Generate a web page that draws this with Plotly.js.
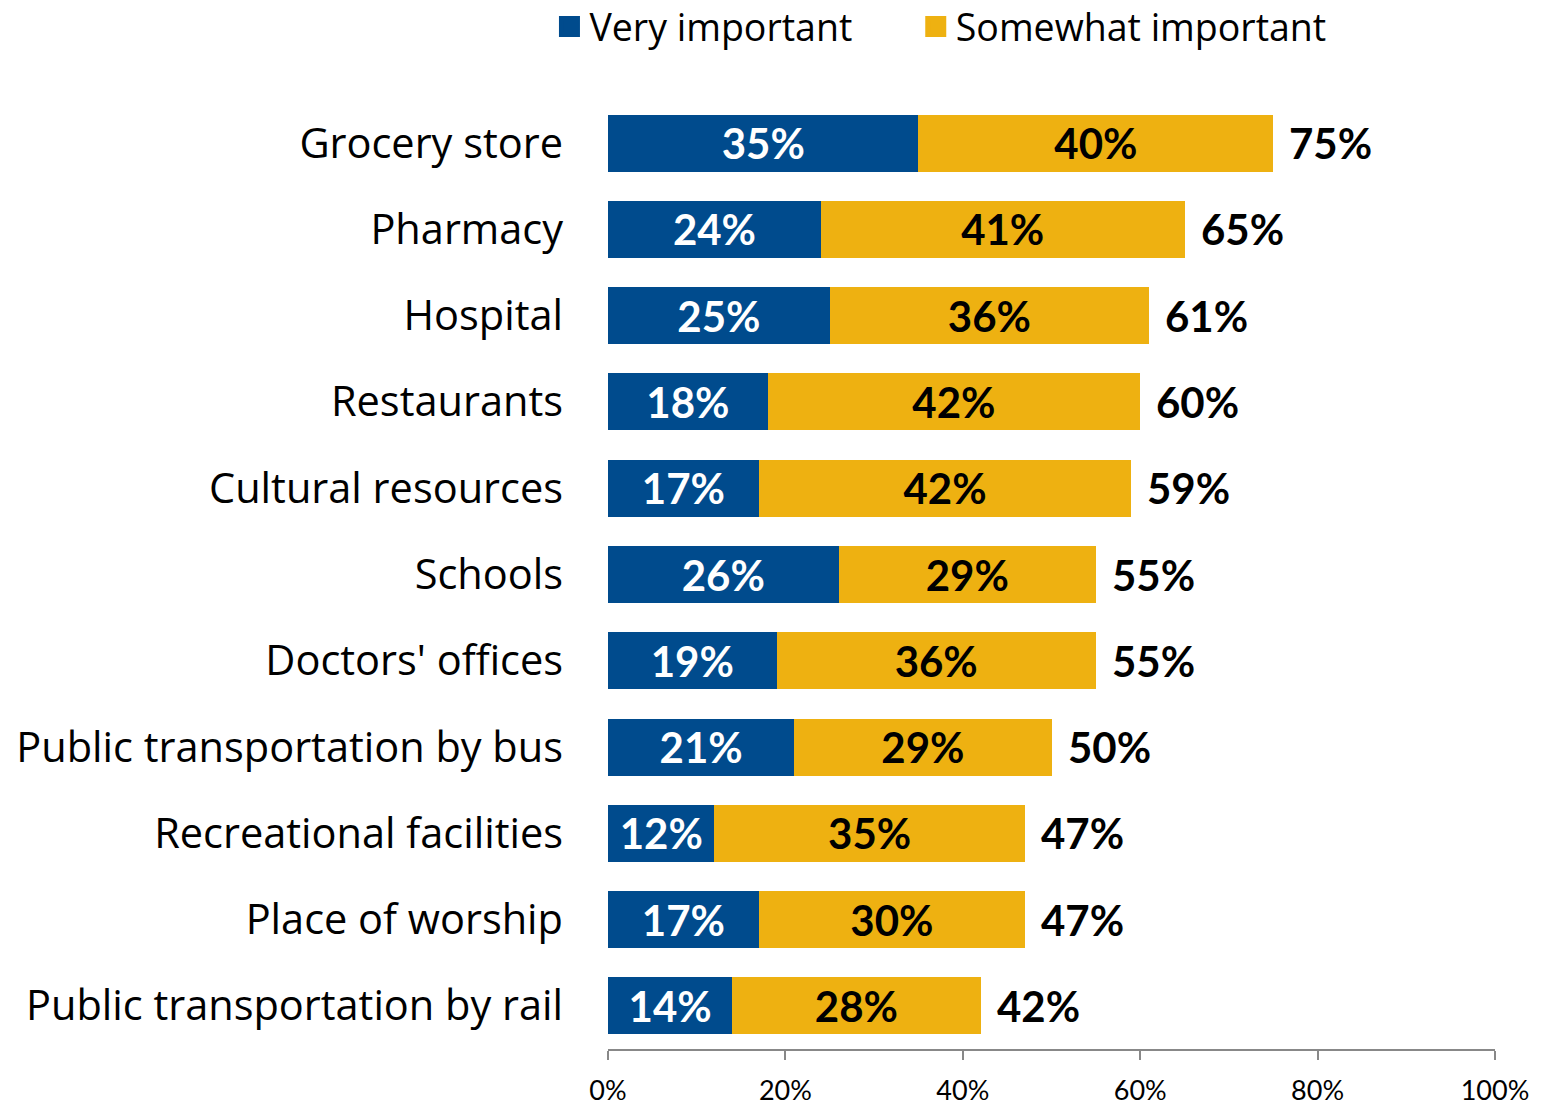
<!DOCTYPE html>
<html><head><meta charset="utf-8">
<script src="https://cdn.plot.ly/plotly-3.0.1.min.js"></script>
<style>body{margin:0;background:#fff}#chart{width:1545px;height:1106px}</style>
</head><body><div id="chart"></div>
<script>
const categories = ["Grocery store","Pharmacy","Hospital","Restaurants","Cultural resources","Schools","Doctors' offices","Public transportation by bus","Recreational facilities","Place of worship","Public transportation by rail"];
const veryImportant = [35,24,25,18,17,26,19,21,12,17,14];
const somewhatImportant = [40,41,36,42,42,29,36,29,35,30,28];
const totals = [75,65,61,60,59,55,55,50,47,47,42];
const xTickVals = [0,20,40,60,80,100];
const xTickText = ["0%","20%","40%","60%","80%","100%"];
const seriesNames = ["Very important","Somewhat important"];
const seriesColors = ["#004B8D","#EEB111"];

const FONT = "Lato, 'Open Sans', sans-serif";
const CATFONT = "'Open Sans', Lato, sans-serif";
const pct = a => a.map(v => v + "%");
const PAD = "\u00a0\u00a0\u00a0\u00a0\u00a0\u00a0";

const traces = [
  {type:'bar', orientation:'h', name:seriesNames[0], y:categories, x:veryImportant, showlegend:false,
   marker:{color:seriesColors[0]}, text:pct(veryImportant), textposition:'inside', insidetextanchor:'middle',
   constraintext:'none', textfont:{family:FONT, size:42, color:'#ffffff', weight:700}, hoverinfo:'none'},
  {type:'bar', orientation:'h', name:seriesNames[1], y:categories, x:somewhatImportant, showlegend:false,
   marker:{color:seriesColors[1]}, text:pct(somewhatImportant), textposition:'inside', insidetextanchor:'middle',
   constraintext:'none', textfont:{family:FONT, size:42, color:'#000000', weight:700}, hoverinfo:'none'},
  // legend entries
  {type:'scatter', mode:'markers', name:seriesNames[0] + PAD, x:[null], y:[null],
   marker:{symbol:'square', size:16, color:seriesColors[0], line:{width:5, color:seriesColors[0]}}},
  {type:'scatter', mode:'markers', name:seriesNames[1], x:[null], y:[null],
   marker:{symbol:'square', size:16, color:seriesColors[1], line:{width:5, color:seriesColors[1]}}}
];

const annotations = categories.map((c,i) => ({
  x: totals[i], y: c, xref:'x', yref:'y', text: totals[i] + "%", showarrow:false,
  xanchor:'left', xshift:14, font:{family:FONT, size:42, color:'#000', weight:700}
}));

const layout = {
  width:1545, height:1106, barmode:'stack', bargap:0.34,
  paper_bgcolor:'#fff', plot_bgcolor:'#fff',
  margin:{l:608, r:50, t:100, b:57, autoexpand:false},
  showlegend:true,
  legend:{orientation:'h', x:-0.066, xanchor:'left', xref:'paper', y:1.110, yanchor:'top', yref:'paper',
          font:{family:CATFONT, size:37.5, color:'#000'}, traceorder:'normal', itemwidth:30, itemsizing:'trace'},
  xaxis:{range:[0,100], tickvals:xTickVals, ticktext:xTickText, showgrid:false, zeroline:false,
         showline:true, linecolor:'#888', linewidth:2, ticks:'outside', ticklen:9, tickcolor:'#888', tickwidth:2,
         tickfont:{family:"'Liberation Sans Narrow', Lato, sans-serif", size:27, color:'#000'}, ticklabelstandoff:8, fixedrange:true},
  yaxis:{type:'category', autorange:'reversed', showgrid:false, zeroline:false, showline:false, ticks:'',
         tickfont:{family:CATFONT, size:41.5, color:'#000'}, ticklabelstandoff:44},
  annotations: annotations
};
Plotly.newPlot('chart', traces, layout, {displayModeBar:false, staticPlot:true});
</script></body></html>
